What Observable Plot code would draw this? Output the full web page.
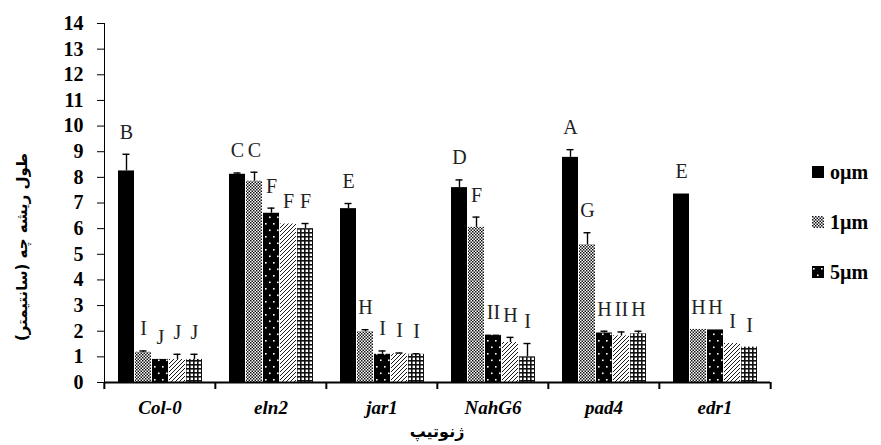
<!DOCTYPE html>
<html><head><meta charset="utf-8">
<script src="https://cdn.jsdelivr.net/npm/d3@7"></script>
<script src="https://cdn.jsdelivr.net/npm/@observablehq/plot@0.6"></script>
<style>
body{margin:0;background:#fff}
#wrap{position:relative;width:881px;height:445px;overflow:hidden}
g[aria-label="y-axis tick label"]{font-size:20px;font-weight:bold}
g[aria-label="fx-axis label"], g[aria-label="fx-axis label"] text{font-family:"DejaVu Sans",sans-serif;font-size:16px;font-weight:bold;font-style:normal}
#ylabel{position:absolute;left:22px;top:247px;transform:translate(-50%,-50%) rotate(-90deg);white-space:nowrap;font-family:"DejaVu Sans",sans-serif;font-size:15px;font-weight:bold;direction:rtl}
#legend{position:absolute;left:812px;top:160px;font-family:"Liberation Serif",serif;font-weight:bold;font-size:20px}
#legend div{position:absolute;left:0;white-space:nowrap;display:flex;align-items:center;height:24px}
#legend svg{margin-right:6px}
</style></head><body><div id="wrap"></div>
<script>
const genotypes = ["Col-0","eln2","jar1","NahG6","pad4","edr1"];
const treatments = ["0µm","1µm","5µm","T4","T5"];
const legendNames = ["oµm","1µm","5µm"];
const yLabel = "طول ریشه چه (سانتیمتر)";
const xLabel = "ژنوتیپ";

const v0  = [8.25, 8.12, 6.78, 7.6, 8.78, 7.35];
const e0  = [0.65, 0.05, 0.2, 0.3, 0.3, 0];
const v1  = [1.18, 7.85, 1.98, 6.05, 5.37, 2.07];
const e1  = [0.05, 0.35, 0.08, 0.4, 0.47, 0];
const v5  = [0.9, 6.6, 1.1, 1.85, 1.93, 2.05];
const e5  = [0, 0.2, 0.13, 0, 0.07, 0];
const v4  = [0.9, 6.18, 1.12, 1.56, 1.82, 1.52];
const e4  = [0.2, 0, 0.03, 0.2, 0.15, 0];
const v5b = [0.9, 6.0, 1.1, 1.0, 1.9, 1.38];
const e5b = [0.2, 0.2, 0.02, 0.52, 0.1, 0];

const L0  = ["B","C","E","D","A","E"];
const L1  = ["I","C","H","F","G","H"];
const L5  = ["J","F","I","II","H","H"];
const L4  = ["J","F","I","H","II","I"];
const L5b = ["J","F","I","I","H","I"];

const series = [[v0,e0,L0],[v1,e1,L1],[v5,e5,L5],[v4,e4,L4],[v5b,e5b,L5b]];
const rows = [];
genotypes.forEach((g, i) => {
  series.forEach(([v, e, L], j) => {
    rows.push({g, t: treatments[j], v: v[i], e: e[i], top: v[i] + e[i], L: L[i]});
  });
});
const patterns = ["url(#p0)","url(#p1)","url(#p2)","url(#p3)","url(#p4)"];
const step = 668 / genotypes.length;

const chart = Plot.plot({
  width: 881, height: 445,
  marginLeft: 103, marginRight: 110, marginTop: 23, marginBottom: 63,
  style: {fontFamily: "'Liberation Serif', serif", background: "white", color: "black", overflow: "visible"},
  fx: {domain: genotypes, paddingInner: 0, paddingOuter: 0},
  x: {domain: treatments, paddingInner: 0.06, paddingOuter: 0.7, axis: null},
  y: {domain: [0, 14], ticks: d3.range(0, 15), tickSize: 7, tickPadding: 14, line: true, label: null},
  color: {type: "ordinal", domain: treatments, range: patterns},
  marks: [
    Plot.barY(rows, {fx: "g", x: "t", y: "v", fill: "t"}),
    Plot.ruleX(rows.filter(d => d.e > 0), {fx: "g", x: "t", y1: "v", y2: "top", stroke: "black", strokeWidth: 1.4}),
    Plot.tickY(rows.filter(d => d.e > 0), {fx: "g", x: "t", y: "top", stroke: "black", strokeWidth: 1.4, insetLeft: 4.5, insetRight: 4.5}),
    Plot.text(rows, {fx: "g", x: "t", y: "top", text: "L", dy: -22, fontSize: 20, fill: "#222"}),
    Plot.ruleY([0], {stroke: "black", strokeWidth: 2}),
    Plot.axisFx({anchor: "bottom", tickSize: 0, tickPadding: 18, fontSize: 19, fontWeight: "bold", fontStyle: "italic", label: null}),
    Plot.axisFx({anchor: "bottom", tickSize: 7, fill: "none", label: null, dx: -step / 2, strokeWidth: 2}),
    Plot.axisFx({anchor: "bottom", ticks: ["edr1"], tickSize: 7, fill: "none", label: null, dx: step / 2, strokeWidth: 2})
  ]
});

const defs = d3.select(chart).insert("defs", ":first-child");
let p = defs.append("pattern").attr("id","p0").attr("patternUnits","userSpaceOnUse").attr("width",4).attr("height",4);
p.append("rect").attr("width",4).attr("height",4).attr("fill","black");
p = defs.append("pattern").attr("id","p1").attr("patternUnits","userSpaceOnUse").attr("width",3).attr("height",3);
p.append("rect").attr("width",3).attr("height",3).attr("fill","#fff");
p.append("rect").attr("width",1.5).attr("height",1.5).attr("fill","#111");
p.append("rect").attr("x",1.5).attr("y",1.5).attr("width",1.5).attr("height",1.5).attr("fill","#111");
p = defs.append("pattern").attr("id","p2").attr("patternUnits","userSpaceOnUse").attr("width",8).attr("height",13);
p.append("rect").attr("width",8).attr("height",13).attr("fill","black");
p.append("rect").attr("x",1).attr("y",2).attr("width",1.6).attr("height",1.6).attr("fill","white");
p.append("rect").attr("x",5).attr("y",8.5).attr("width",1.6).attr("height",1.6).attr("fill","white");
p = defs.append("pattern").attr("id","p3").attr("patternUnits","userSpaceOnUse").attr("width",4).attr("height",4);
p.append("rect").attr("width",4).attr("height",4).attr("fill","white");
p.append("path").attr("d","M-1,1 L1,-1 M0,4 L4,0 M3,5 L5,3").attr("stroke","black").attr("stroke-width",0.9);
p = defs.append("pattern").attr("id","p4").attr("patternUnits","userSpaceOnUse").attr("width",4).attr("height",4);
p.append("rect").attr("width",4).attr("height",4).attr("fill","white");
p.append("rect").attr("width",4).attr("height",1.6).attr("fill","#111");
p.append("rect").attr("width",1.6).attr("height",4).attr("fill","#111");

const wrap = document.getElementById("wrap");
wrap.appendChild(chart);

const yl = document.createElement("div");
yl.id = "ylabel";
yl.textContent = yLabel;
wrap.appendChild(yl);

const xl = document.createElement("div");
xl.style.cssText = "position:absolute;left:437px;top:431px;transform:translate(-50%,-50%);font-family:'DejaVu Sans',sans-serif;font-size:16px;font-weight:bold;white-space:nowrap";
xl.textContent = xLabel;
wrap.appendChild(xl);

const leg = document.createElement("div");
leg.id = "legend";
legendNames.forEach((name, i) => {
  const item = document.createElement("div");
  item.style.top = (i * 50) + "px";
  item.innerHTML = `<svg width="12" height="12"><rect width="12" height="12" fill="${patterns[i]}"/></svg><span>${name}</span>`;
  leg.appendChild(item);
});
wrap.appendChild(leg);
</script></body></html>
